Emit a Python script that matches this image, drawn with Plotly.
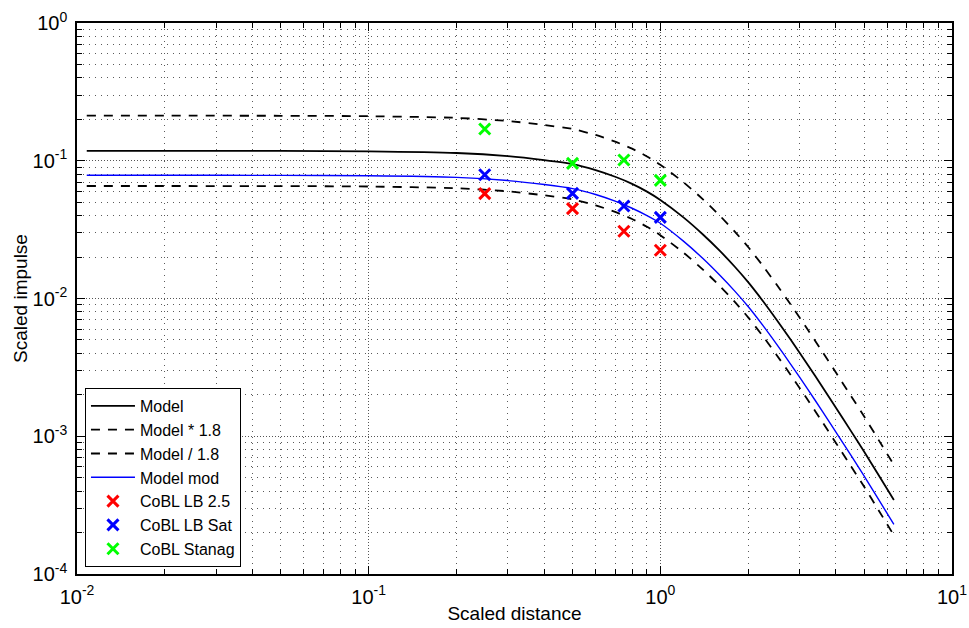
import plotly.graph_objects as go

# Scaled distance grid for the model curves
dist = [0.0108, 0.02, 0.05, 0.1, 0.2, 0.3, 0.4, 0.5, 0.6, 0.7, 0.8, 0.9, 1.0,
        1.2, 1.4, 1.6, 1.8, 2.0, 2.25, 2.5, 2.8, 3.2, 3.6, 4.0, 4.5, 5.0, 5.6, 6.32]

# Model scaled impulse
model = [0.118, 0.118, 0.1178, 0.117, 0.1138, 0.108, 0.101, 0.0945, 0.0855, 0.0765,
         0.068, 0.0597, 0.0519, 0.0388, 0.02915, 0.02216, 0.0170, 0.01314, 0.00955,
         0.00704, 0.00501, 0.00331, 0.00227, 0.00161, 0.001094, 0.000773, 0.000523,
         0.000344]

# Modified model scaled impulse
model_mod = [0.0785, 0.0785, 0.0783, 0.0778, 0.0758, 0.0718, 0.0672, 0.0628, 0.0569,
             0.0509, 0.0452, 0.0400, 0.0352, 0.0261, 0.0195, 0.01474, 0.01131, 0.00874,
             0.00635, 0.00468, 0.00333, 0.00220, 0.00151, 0.00107, 0.000728, 0.000514,
             0.000348, 0.000229]

factor = 1.8
model_hi = [v * factor for v in model]
model_lo = [v / factor for v in model]

# Measured points
meas_dist = [0.25, 0.5, 0.75, 1.0]
cobl_lb25 = [0.0577, 0.0449, 0.0308, 0.0224]
cobl_lbsat = [0.0792, 0.058, 0.0469, 0.0388]
cobl_stanag = [0.170, 0.0958, 0.1012, 0.0721]

x_major = [0.01, 0.1, 1, 10]
x_major_text = ["10<sup>-2</sup>", "10<sup>-1</sup>", "10<sup>0</sup>", "10<sup>1</sup>"]
y_major = [1e-4, 1e-3, 1e-2, 1e-1, 1]
y_major_text = ["10<sup>-4</sup>", "10<sup>-3</sup>", "10<sup>-2</sup>", "10<sup>-1</sup>", "10<sup>0</sup>"]

x_minor = [m * 10 ** e for e in (-2, -1, 0) for m in range(2, 10)]
y_minor = [m * 10 ** e for e in (-4, -3, -2, -1) for m in range(2, 10)]

FONT = "Liberation Sans, Arial, Helvetica, sans-serif"

fig = go.Figure()
fig.add_trace(go.Scatter(x=dist, y=model, mode="lines", name="Model",
                         line=dict(color="black", width=1.8, shape="spline", smoothing=0.6)))
fig.add_trace(go.Scatter(x=dist, y=model_hi, mode="lines", name="Model * 1.8",
                         line=dict(color="black", width=1.8, dash="9px,8px",
                                   shape="spline", smoothing=0.6)))
fig.add_trace(go.Scatter(x=dist, y=model_lo, mode="lines", name="Model / 1.8",
                         line=dict(color="black", width=1.8, dash="9px,8px",
                                   shape="spline", smoothing=0.6)))
fig.add_trace(go.Scatter(x=dist, y=model_mod, mode="lines", name="Model mod",
                         line=dict(color="#0000FF", width=1.4, shape="spline", smoothing=0.6)))

for name, vals, col in [("CoBL LB 2.5", cobl_lb25, "#FF0000"),
                        ("CoBL LB Sat", cobl_lbsat, "#0000FF"),
                        ("CoBL Stanag", cobl_stanag, "#00FF00")]:
    fig.add_trace(go.Scatter(x=meas_dist, y=vals, mode="markers", name=name,
                             marker=dict(symbol="x-thin", size=11, color=col,
                                         line=dict(color=col, width=3))))

axis_common = dict(
    type="log", automargin=False,
    showline=True, linecolor="black", linewidth=1.5, mirror="allticks",
    ticks="inside", ticklen=8, tickwidth=1, tickcolor="black",
    showgrid=True, gridcolor="#555555", gridwidth=1, griddash="1px,2px",
    zeroline=False,
    tickfont=dict(family=FONT, size=20, color="black"),
)

minor_common = dict(tickmode="array", ticks="inside", ticklen=5, tickcolor="black",
                    showgrid=True, gridcolor="#5a5a5a", gridwidth=1,
                    griddash="1px,5px")

fig.update_layout(
    width=969, height=628,
    margin=dict(l=77, r=17, t=23, b=54),
    paper_bgcolor="white", plot_bgcolor="white",
    font=dict(family=FONT, size=17, color="black"),
    showlegend=True,
    legend=dict(x=0.0091, y=0.0127, xanchor="left", yanchor="bottom",
                bgcolor="white", bordercolor="black", borderwidth=1,
                font=dict(family=FONT, size=16, color="black"),
                itemwidth=44, tracegroupgap=0),
    xaxis=dict(axis_common, range=[-2, 1], tickmode="array",
               tickvals=x_major, ticktext=x_major_text, ticklabelstandoff=4,
               minor=dict(minor_common, tickvals=x_minor),
               title=dict(text="Scaled distance", font=dict(family=FONT, size=19),
                          standoff=0)),
    yaxis=dict(axis_common, range=[-4, 0], tickmode="array",
               tickvals=y_major, ticktext=y_major_text, ticklabelstandoff=4,
               minor=dict(minor_common, tickvals=y_minor),
               title=dict(text="Scaled impulse", font=dict(family=FONT, size=19),
                          standoff=0)),
)

fig.write_html("out.html")
